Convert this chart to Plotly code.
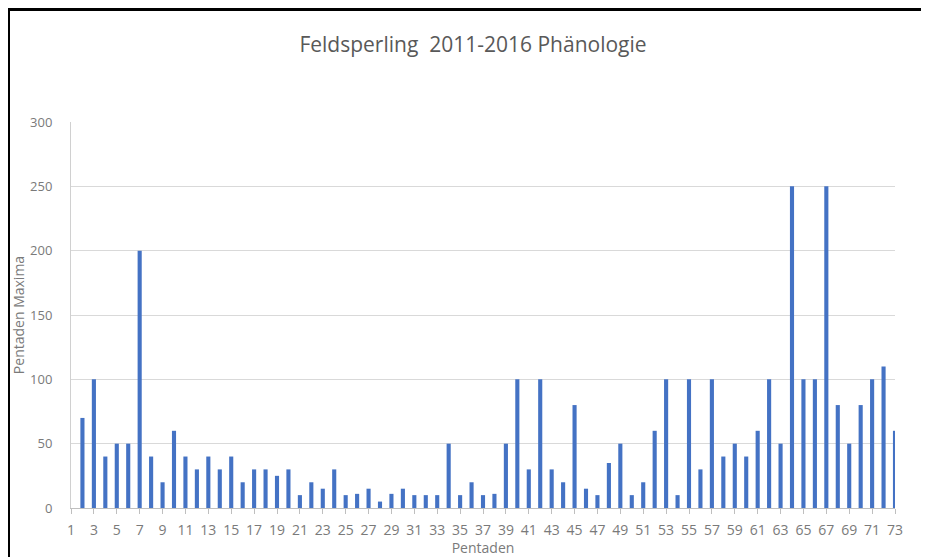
import plotly.graph_objects as go

pentaden = list(range(1, 74))
maxima = [
    0, 70, 100, 40, 50, 50, 200, 40, 20, 60,
    40, 30, 40, 30, 40, 20, 30, 30, 25, 30,
    10, 20, 15, 30, 10, 11, 15, 5, 11, 15,
    10, 10, 10, 50, 10, 20, 10, 11, 50, 100,
    30, 100, 30, 20, 80, 15, 10, 35, 50, 10,
    20, 60, 100, 10, 100, 30, 100, 40, 50, 40,
    60, 100, 50, 250, 100, 100, 250, 80, 50, 80,
    100, 110, 60,
]
title_text = "Feldsperling\u00a0\u00a02011-2016 Phänologie"
x_title = "Pentaden"
y_title = "Pentaden Maxima"

# the page body has an 8px margin, so the figure starts at screen (8, 8)
OFF = 8
W, H = 929 - OFF, 557 - OFF
L, R, T, B = 71 - OFF, 34, 122 - OFF, 49
pw, ph = W - L - R, H - T - B

def px_x(sx):
    return (sx - OFF - L) / pw

def px_y(sy):
    return (H - B - (sy - OFF)) / ph

fig = go.Figure()
fig.add_trace(go.Bar(
    x=pentaden, y=maxima, width=0.36,
    marker=dict(color="#4472C4", line=dict(width=0)),
))

fig.update_layout(
    width=W, height=H,
    margin=dict(l=L, r=R, t=T, b=B, autoexpand=False),
    paper_bgcolor="white", plot_bgcolor="white",
    showlegend=False,
    font=dict(family="Open Sans", color="#595959"),
    title=dict(text=title_text, x=px_x(473), xref="paper", xanchor="center",
               y=1 - (45 - OFF) / H, yref="container", yanchor="middle",
               font=dict(size=21, color="#595959", family="Open Sans")),
)
fig.update_xaxes(
    range=[1, 73], tick0=1, dtick=2, tickmode="linear",
    automargin=False,
    showgrid=False, zeroline=False,
    showline=True, linecolor="#BFBFBF", linewidth=1,
    ticks="outside", ticklen=5, tickcolor="#BFBFBF",
    tickfont=dict(size=14, color="#7A7A7A"),
    ticklabelstandoff=4,
    title=dict(text=x_title, font=dict(size=14, color="#7A7A7A"), standoff=11),
)
fig.update_yaxes(
    range=[0, 300], dtick=50, tick0=0,
    automargin=False,
    showgrid=True, gridcolor="#D9D9D9", gridwidth=1,
    zeroline=False,
    showline=True, linecolor="#D0D0D0", linewidth=1,
    ticks="", tickfont=dict(size=13, color="#7A7A7A"),
    ticklabelstandoff=15,
    title=dict(text=y_title, font=dict(size=14, color="#7A7A7A"), standoff=2),
)

# black frame of the screenshot (top and left edges)
fig.add_shape(type="line", xref="paper", yref="paper",
              x0=px_x(6), x1=px_x(940), y0=px_y(9.5), y1=px_y(9.5),
              line=dict(color="black", width=3))
fig.add_shape(type="line", xref="paper", yref="paper",
              x0=px_x(8.5), x1=px_x(8.5), y0=px_y(8), y1=px_y(570),
              line=dict(color="black", width=3))

fig.write_html("out.html")
